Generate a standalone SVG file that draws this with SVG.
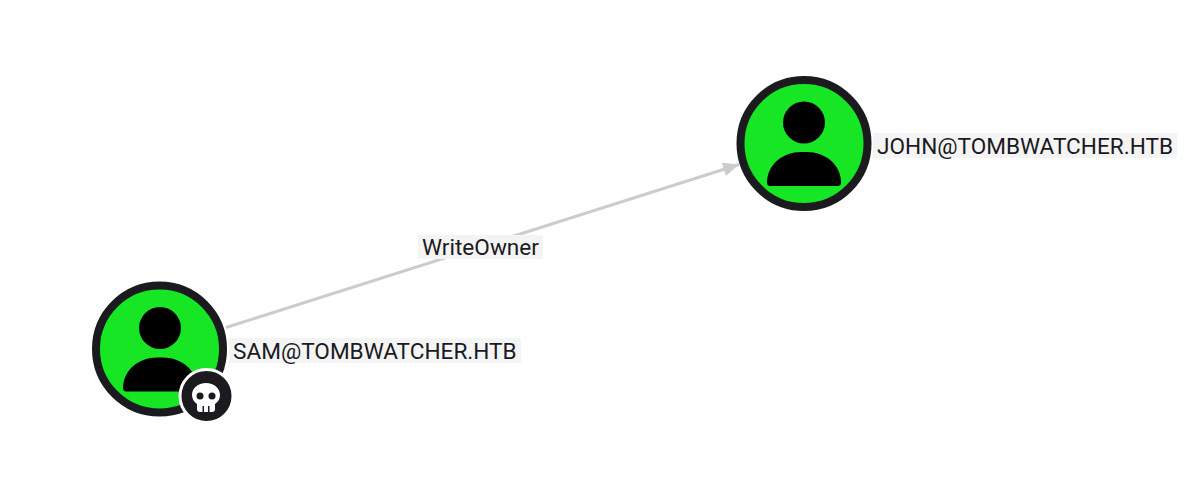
<svg xmlns="http://www.w3.org/2000/svg" width="1187" height="492" viewBox="0 0 1187 492">
<defs>
<style>
.ring{fill:#17e625;stroke:#1a1a1f;stroke-width:8}
.lbg{fill:#f4f4f4}
.lbl{font-family:Roboto,"Liberation Sans",sans-serif;font-size:22.600px;fill:#1a1a1f}
.edge{stroke:#cccccc;stroke-width:3;fill:none}
</style>
<marker id="arrow" markerUnits="userSpaceOnUse" markerWidth="18" markerHeight="16" refX="16" refY="8" orient="auto">
<path d="M0 1 L16 8 L0 15 Z" fill="#cccccc"/>
</marker>
<g id="person">
<circle cx="0" cy="-21" r="21"/>
<path d="M-37 39 C-37 21 -21 8.500 -3 8.500 L3 8.500 C21 8.500 37 21 37 39 C37 41 36 42.500 34 42.500 L-34 42.500 C-36 42.500 -37 41 -37 39 Z"/>
</g>
</defs>
<rect width="1187" height="492" fill="#ffffff"/>
<g id="connectors">
<line class="edge" x1="226" y1="327.500" x2="739" y2="164.500" marker-end="url(#arrow)"/>
<g id="edge-label">
<rect class="lbg" x="418" y="235" width="125" height="24"/>
<text class="lbl" x="422" y="255">WriteOwner</text>
</g>
</g>
<g id="node-sam">
<circle class="ring" cx="159.500" cy="349" r="63.500"/>
<use href="#person" x="160" y="349"/>
<circle cx="206.500" cy="396" r="26.500" fill="#1a1a1f" stroke="#ffffff" stroke-width="3"/>
<path fill="#ffffff" d="M206 383 C214 383 220 388 220 395 C220 399 218 402 215 404 L215 409 C215 411 214 412 212 412 L200 412 C198 412 197 411 197 409 L197 404 C194 402 192 399 192 395 C192 388 198 383 206 383 Z"/>
<circle cx="200" cy="396" r="3.500" fill="#1a1a1f"/>
<circle cx="212" cy="396" r="3.500" fill="#1a1a1f"/>
<rect x="202.500" y="406" width="1.500" height="6" fill="#1a1a1f"/>
<rect x="208" y="406" width="1.500" height="6" fill="#1a1a1f"/>
<rect class="lbg" x="229" y="338" width="292" height="25"/>
<text class="lbl" x="233" y="359">SAM@TOMBWATCHER.HTB</text>
</g>
<g id="node-john">
<circle class="ring" cx="804" cy="143.500" r="63.500"/>
<use href="#person" x="804" y="143.500"/>
<rect class="lbg" x="873" y="133" width="304" height="25"/>
<text class="lbl" x="877" y="154">JOHN@TOMBWATCHER.HTB</text>
</g>
</svg>
